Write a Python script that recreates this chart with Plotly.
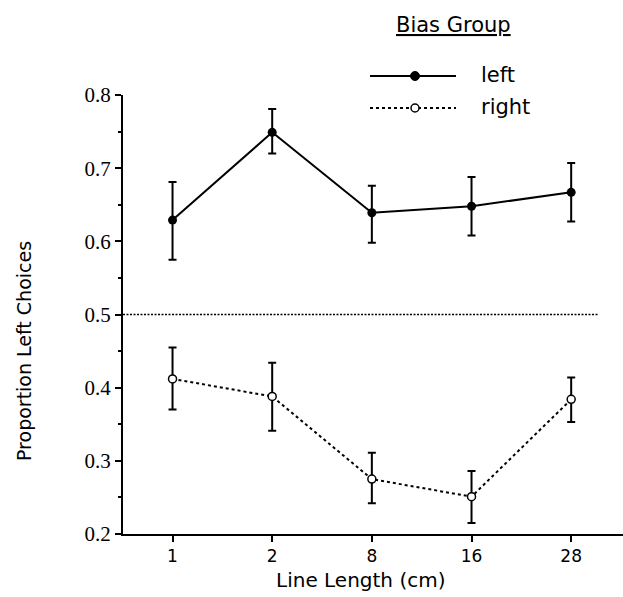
import plotly.graph_objects as go

# Data
categories = ["1", "2", "8", "16", "28"]
left_mean = [0.629, 0.749, 0.639, 0.648, 0.667]
left_hi = [0.681, 0.781, 0.676, 0.688, 0.707]
left_lo = [0.575, 0.720, 0.598, 0.608, 0.627]
right_mean = [0.412, 0.388, 0.275, 0.251, 0.384]
right_hi = [0.455, 0.434, 0.311, 0.286, 0.414]
right_lo = [0.370, 0.341, 0.242, 0.215, 0.353]
chance_level = 0.5
y_ticks = [0.2, 0.3, 0.4, 0.5, 0.6, 0.7, 0.8]

xi = list(range(len(categories)))

def err(mean, hi, lo):
    return dict(type="data", symmetric=False,
                array=[h - m for h, m in zip(hi, mean)],
                arrayminus=[m - l for m, l in zip(mean, lo)],
                color="black", thickness=2, width=4)

fig = go.Figure()
fig.add_trace(go.Scatter(
    x=xi, y=left_mean, mode="lines+markers", name="left",
    line=dict(color="black", width=2),
    marker=dict(symbol="circle", size=9, color="black"),
    error_y=err(left_mean, left_hi, left_lo), showlegend=False))
fig.add_trace(go.Scatter(
    x=xi, y=right_mean, mode="lines+markers", name="right",
    line=dict(color="black", width=2, dash="3px,3px"),
    marker=dict(symbol="circle", size=8, color="white",
                line=dict(color="black", width=1.5)),
    error_y=err(right_mean, right_hi, right_lo), showlegend=False))

L, R, T, B = 123, 0, 95, 63
W, H = 623, 597
pw, ph = W - L - R, H - T - B

def px(x):
    return (x - L) / pw

def py(y):
    return (H - B - y) / ph

shapes = [
    dict(type="line", xref="paper", yref="y", x0=0, x1=px(598),
         y0=chance_level, y1=chance_level,
         line=dict(color="black", width=1.5, dash="2px,1.5px")),
    # legend samples
    dict(type="line", xref="paper", yref="paper", x0=px(370), x1=px(456),
         y0=py(76), y1=py(76), line=dict(color="black", width=2)),
    dict(type="line", xref="paper", yref="paper", x0=px(370), x1=px(456),
         y0=py(108), y1=py(108), line=dict(color="black", width=2, dash="3px,3px")),
    dict(type="circle", xref="paper", yref="paper", xsizemode="pixel", ysizemode="pixel",
         xanchor=px(415), yanchor=py(76), x0=-4.5, x1=4.5, y0=-4.5, y1=4.5,
         fillcolor="black", line=dict(color="black", width=1)),
    dict(type="circle", xref="paper", yref="paper", xsizemode="pixel", ysizemode="pixel",
         xanchor=px(415), yanchor=py(108), x0=-4, x1=4, y0=-4, y1=4,
         fillcolor="white", line=dict(color="black", width=1.5)),
]

font = "DejaVu Sans"
annotations = [
    dict(text="<u>Bias Group</u>", xref="paper", yref="paper", x=px(453), y=py(25),
         showarrow=False, xanchor="center", yanchor="middle",
         font=dict(family=font, size=21, color="black")),
    dict(text="left", xref="paper", yref="paper", x=px(479), y=py(75),
         showarrow=False, xanchor="left", yanchor="middle",
         font=dict(family=font, size=21, color="black")),
    dict(text="right", xref="paper", yref="paper", x=px(479), y=py(107),
         showarrow=False, xanchor="left", yanchor="middle",
         font=dict(family=font, size=21, color="black")),
    dict(text="Line Length (cm)", xref="paper", yref="paper", x=px(360), y=py(580),
         showarrow=False, xanchor="center", yanchor="middle",
         font=dict(family=font, size=20, color="black")),
    dict(text="Proportion Left Choices", xref="paper", yref="paper", x=px(24), y=py(351),
         showarrow=False, xanchor="center", yanchor="middle", textangle=-90,
         font=dict(family=font, size=19, color="black")),
]

fig.update_layout(
    width=W, height=H,
    margin=dict(l=L, r=R, t=T, b=B, pad=0),
    paper_bgcolor="white", plot_bgcolor="white",
    shapes=shapes, annotations=annotations,
    xaxis=dict(range=[-0.497, 4.52], tickmode="array", tickvals=xi, ticktext=categories,
               showline=True, linecolor="black", linewidth=2, ticks="outside",
               ticklen=6, tickwidth=2, tickcolor="black", showgrid=False, zeroline=False,
               tickfont=dict(family=font, size=17, color="black")),
    yaxis=dict(range=[0.2, 0.8], tickvals=y_ticks, tickformat=".1f",
               showline=True, linecolor="black", linewidth=2, ticks="outside",
               ticklen=6, tickwidth=2, tickcolor="black", showgrid=False, zeroline=False,
               minor=dict(dtick=0.05, ticks="outside", ticklen=3, tickwidth=2, tickcolor="black",
                          showgrid=False),
               tickfont=dict(family="Liberation Serif", size=21, color="black")),
)

fig.write_html("out.html")
